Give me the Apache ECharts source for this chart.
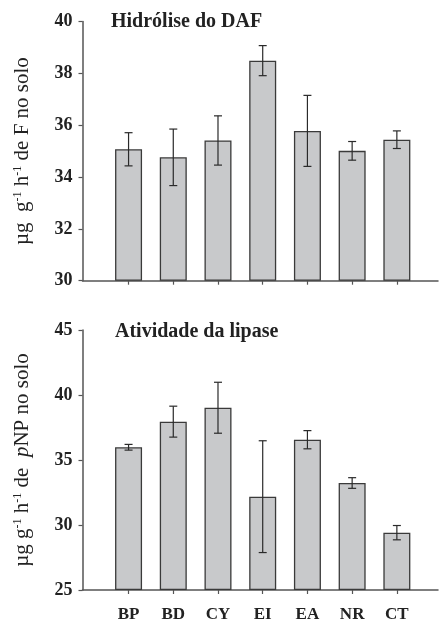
<!DOCTYPE html>
<html>
<head>
<meta charset="utf-8">
<script src="https://cdn.jsdelivr.net/npm/echarts@6/dist/echarts.min.js"></script>
<style>
  html, body { margin: 0; padding: 0; background: #fff; }
  #chart { width: 441px; height: 624px; }
</style>
</head>
<body>
<div id="chart"></div>
<script>
// categories and values
const categories = ['BP', 'BD', 'CY', 'EI', 'EA', 'NR', 'CT']
const dafMean = [35.07, 34.76, 35.41, 38.49, 35.78, 35.01, 35.44]
const dafErr = [0.64, 1.09, 0.95, 0.58, 1.37, 0.36, 0.34]
const lipMean = [35.98, 37.95, 39.02, 32.18, 36.56, 33.23, 29.41]
const lipErr = [0.22, 1.19, 1.96, 4.3, 0.7, 0.41, 0.55]
const dafTicks = [30, 40, 2]   // min, max, interval
const lipTicks = [25, 45, 5]

const serif = '"Liberation Serif", "DejaVu Serif", serif'
const ink = '#222'
const axisColor = '#555'
const barFill = '#c8c9cb'
const barEdge = '#3a3a3a'

const idx = categories.map((_, i) => i)

const xAxisFor = (gridIndex, showLabels) => ({
  type: 'value',
  gridIndex,
  min: -1.03,
  max: 6.92,
  splitLine: { show: false },
  axisLine: { show: true, onZero: false, lineStyle: { color: axisColor, width: 1.5 } },
  axisTick: { show: true, customValues: idx, length: 4, lineStyle: { color: axisColor, width: 1.2 } },
  axisLabel: {
    show: showLabels,
    customValues: idx,
    formatter: (v) => categories[v] ?? '',
    fontFamily: serif, fontWeight: 'bold', fontSize: 17, color: ink, margin: 16
  }
})

const yAxisFor = (gridIndex, ticks, name) => ({
  type: 'value',
  gridIndex,
  min: ticks[0],
  max: ticks[1],
  interval: ticks[2],
  startValue: ticks[0],
  splitLine: { show: false },
  axisLine: { show: true, onZero: false, lineStyle: { color: axisColor, width: 1.5 } },
  axisTick: { show: true, length: 4, lineStyle: { color: axisColor, width: 1.2 } },
  axisLabel: { fontFamily: serif, fontWeight: 'bold', fontSize: 18, color: ink, margin: 10 },
  name,
  nameLocation: 'middle',
  nameRotate: 90,
  nameGap: 49,
  nameTextStyle: {
    fontFamily: serif, fontSize: 21, color: ink,
    rich: {
      t: { fontFamily: serif, fontSize: 21, color: ink },
      i: { fontFamily: serif, fontSize: 21, color: ink, fontStyle: 'italic' },
      s: { fontFamily: serif, fontSize: 12, color: ink, padding: [0, 0, 10, 0] }
    }
  }
})

const barSeries = (i, values) => ({
  type: 'bar',
  xAxisIndex: i,
  yAxisIndex: i,
  barWidth: 27,
  data: values.map((v, k) => [k, v]),
  itemStyle: { color: barFill, borderColor: barEdge, borderWidth: 1.3 },
  z: 2
})

const errSeries = (i, values, errs) => ({
  type: 'custom',
  xAxisIndex: i,
  yAxisIndex: i,
  data: values.map((v, k) => [k, v - errs[k], v + errs[k]]),
  renderItem: (params, api) => {
    const lo = api.coord([api.value(0), api.value(1)])
    const hi = api.coord([api.value(0), api.value(2)])
    const cap = 4
    const style = { stroke: '#2a2a2a', lineWidth: 1.2 }
    return {
      type: 'group',
      children: [
        { type: 'line', shape: { x1: lo[0], y1: lo[1], x2: hi[0], y2: hi[1] }, style },
        { type: 'line', shape: { x1: lo[0] - cap, y1: lo[1], x2: lo[0] + cap, y2: lo[1] }, style },
        { type: 'line', shape: { x1: hi[0] - cap, y1: hi[1], x2: hi[0] + cap, y2: hi[1] }, style }
      ]
    }
  },
  z: 3
})

const chart = echarts.init(document.getElementById('chart'))
chart.setOption({
  animation: false,
  backgroundColor: '#fff',
  title: [
    { text: 'Hidrólise do DAF', left: 106, top: 7,
      textStyle: { fontFamily: serif, fontWeight: 'bold', fontSize: 20, color: ink } },
    { text: 'Atividade da lipase', left: 110, top: 317,
      textStyle: { fontFamily: serif, fontWeight: 'bold', fontSize: 20, color: ink } }
  ],
  grid: [
    { left: 82.5, right: 3, top: 21.5, height: 259.2 },
    { left: 82.5, right: 3, top: 330, height: 260 }
  ],
  xAxis: [xAxisFor(0, false), xAxisFor(1, true)],
  yAxis: [
    yAxisFor(0, dafTicks, '{t|µg  g}{s|-1}{t| h}{s|-1}{t| de F no solo}'),
    yAxisFor(1, lipTicks, '{t|µg g}{s|-1}{t| h}{s|-1}{t| de  }{i|p}{t|NP no solo}')
  ],
  series: [
    barSeries(0, dafMean),
    errSeries(0, dafMean, dafErr),
    barSeries(1, lipMean),
    errSeries(1, lipMean, lipErr)
  ]
})
</script>
</body>
</html>
